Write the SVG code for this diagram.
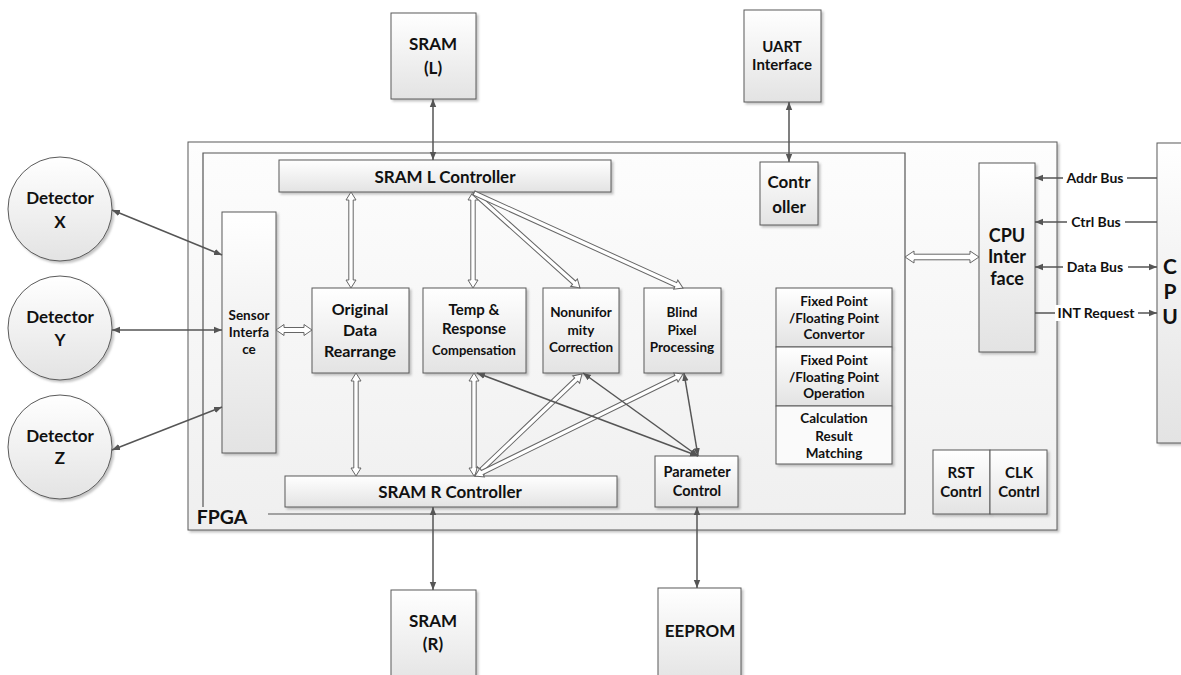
<svg xmlns="http://www.w3.org/2000/svg" width="1181" height="675" viewBox="0 0 1181 675">
<defs>
<linearGradient id="g" x1="0" y1="0" x2="0" y2="1"><stop offset="0" stop-color="#ffffff"/><stop offset="1" stop-color="#e3e3e3"/></linearGradient>
<linearGradient id="gf" x1="0" y1="0" x2="0" y2="1"><stop offset="0" stop-color="#fdfdfd"/><stop offset="1" stop-color="#efefef"/></linearGradient>
<filter id="sh" x="-10%" y="-10%" width="130%" height="130%"><feDropShadow dx="2" dy="2" stdDeviation="1" flood-color="#888" flood-opacity="0.5"/></filter>
<marker id="ah" viewBox="0 0 10 10" refX="10" refY="5" markerWidth="8" markerHeight="8" markerUnits="userSpaceOnUse" orient="auto-start-reverse"><path d="M0,1 L10,5 L0,9 z" fill="#555"/></marker>
<style>
.box{fill:url(#g);stroke:#5a5a5a;stroke-width:1;filter:url(#sh)}
.t{font-family:Lato,"Liberation Sans",sans-serif;font-weight:bold;fill:#111;text-anchor:middle}
.f21{font-size:21px}.f19{font-size:19.5px}.f18{font-size:18px}.f17{font-size:17px}.f16{font-size:16px}.f15{font-size:15px}.f145{font-size:14.5px}.f14{font-size:14px}.f135{font-size:13.5px}.f13{font-size:13px}
.dl{fill:none;stroke:#555;stroke-width:1.5;marker-start:url(#ah);marker-end:url(#ah)}
.sl{fill:none;stroke:#555;stroke-width:1.5;marker-end:url(#ah)}
.ha{fill:#fff;stroke:#666;stroke-width:1}
.lb{fill:#fff}
</style>
</defs>
<rect width="1181" height="675" fill="#fff"/>

<g id="fpga">
<rect x="188" y="142" width="869" height="388" fill="url(#gf)" stroke="#5a5a5a" stroke-width="1" filter="url(#sh)"/>
<path d="M268,514 H905 V153 H203 V507" fill="none" stroke="#555" stroke-width="1.2"/>
<text class="t f19" x="222" y="524">FPGA</text>
</g>

<g id="detector-x"><circle cx="60" cy="209" r="52" class="box"/><text class="t f17" x="60" y="204">Detector</text><text class="t f17" x="60" y="228">X</text></g>
<g id="detector-y"><circle cx="60" cy="328" r="52" class="box"/><text class="t f17" x="60" y="323">Detector</text><text class="t f17" x="60" y="346">Y</text></g>
<g id="detector-z"><circle cx="60" cy="447" r="52" class="box"/><text class="t f17" x="60" y="442">Detector</text><text class="t f17" x="60" y="464">Z</text></g>

<g id="sram-l"><rect class="box" x="391" y="13" width="85" height="86"/><text class="t f17" x="433" y="50">SRAM</text><text class="t f17" x="433" y="74">(L)</text></g>
<g id="uart"><rect class="box" x="744" y="10" width="77" height="92"/><text class="t f15" x="782" y="52">UART</text><text class="t f15" x="782" y="70">Interface</text></g>
<g id="sram-l-ctrl"><rect class="box" x="279" y="160" width="332" height="32"/><text class="t f17" x="445" y="183">SRAM L Controller</text></g>
<g id="controller"><rect class="box" x="760" y="162" width="58" height="63"/><text class="t f17" x="789" y="188">Contr</text><text class="t f17" x="789" y="213">oller</text></g>
<g id="cpu-interface"><rect class="box" x="979" y="163" width="56" height="189"/><text class="t f18" x="1007" y="242">CPU</text><text class="t f18" x="1007" y="263">Inter</text><text class="t f18" x="1007" y="285">face</text></g>
<g id="cpu"><rect class="box" x="1157" y="143" width="40" height="300"/><text class="t f21" x="1170" y="274">C</text><text class="t f21" x="1170" y="299">P</text><text class="t f21" x="1170" y="324">U</text></g>
<g id="sensor-interface"><rect class="box" x="222" y="212" width="54" height="241"/><text class="t f135" x="249" y="320">Sensor</text><text class="t f135" x="249" y="337">Interfa</text><text class="t f135" x="249" y="354">ce</text></g>
<g id="original-data"><rect class="box" x="312" y="288" width="97" height="85"/><text class="t f16" x="360" y="315">Original</text><text class="t f16" x="360" y="336">Data</text><text class="t f16" x="360" y="357">Rearrange</text></g>
<g id="temp-response"><rect class="box" x="423" y="288" width="103" height="85"/><text class="t f15" x="474" y="315">Temp &amp;</text><text class="t f15" x="474" y="334">Response</text><text class="t f13" x="474" y="355">Compensation</text></g>
<g id="nonuniformity"><rect class="box" x="543" y="288" width="76" height="85"/><text class="t f135" x="581" y="317">Nonunifor</text><text class="t f135" x="581" y="335">mity</text><text class="t f135" x="581" y="352">Correction</text></g>
<g id="blind-pixel"><rect class="box" x="644" y="288" width="77" height="85"/><text class="t f135" x="682" y="317">Blind</text><text class="t f135" x="682" y="335">Pixel</text><text class="t f135" x="682" y="352">Processing</text></g>
<g id="fixed-convertor"><rect class="box" x="776" y="288" width="116" height="59"/><text class="t f135" x="834" y="306">Fixed Point</text><text class="t f135" x="834" y="323">/Floating Point</text><text class="t f135" x="834" y="339">Convertor</text></g>
<g id="fixed-operation"><rect class="box" x="776" y="347" width="116" height="59"/><text class="t f135" x="834" y="365">Fixed Point</text><text class="t f135" x="834" y="382">/Floating Point</text><text class="t f135" x="834" y="398">Operation</text></g>
<g id="calc-matching"><rect class="box" x="776" y="406" width="116" height="58" style="fill:#fafafa"/><text class="t f135" x="834" y="423">Calculation</text><text class="t f135" x="834" y="441">Result</text><text class="t f135" x="834" y="458">Matching</text></g>
<g id="sram-r-ctrl"><rect class="box" x="285" y="476" width="332" height="31"/><text class="t f17" x="450" y="498">SRAM R Controller</text></g>
<g id="parameter-control"><rect class="box" x="655" y="456" width="83" height="51"/><text class="t f145" x="697" y="477">Parameter</text><text class="t f145" x="697" y="496">Control</text></g>
<g id="rst"><rect class="box" x="933" y="450" width="57" height="64"/><text class="t f15" x="961" y="478">RST</text><text class="t f15" x="961" y="497">Contrl</text></g>
<g id="clk"><rect class="box" x="990" y="450" width="57" height="64"/><text class="t f15" x="1019" y="478">CLK</text><text class="t f15" x="1019" y="497">Contrl</text></g>
<g id="sram-r"><rect class="box" x="391" y="590" width="85" height="95"/><text class="t f17" x="433" y="627">SRAM</text><text class="t f17" x="433" y="650">(R)</text></g>
<g id="eeprom"><rect class="box" x="658" y="588" width="83" height="97"/><text class="t f17" x="700" y="637">EEPROM</text></g>

<g id="connectors">
<polygon class="ha" transform="translate(276,330)" points="0,0 8,-5.5 8,-2.5 28,-2.5 28,-5.5 36,0 28,5.5 28,2.5 8,2.5 8,5.5"/>
<polygon class="ha" transform="translate(351,192) rotate(90)" points="0,0 8,-5 8,-2.2 88,-2.2 88,-5 96,0 88,5 88,2.2 8,2.2 8,5"/>
<polygon class="ha" transform="translate(356,373) rotate(90)" points="0,0 8,-5 8,-2.2 95,-2.2 95,-5 103,0 95,5 95,2.2 8,2.2 8,5"/>
<polygon class="ha" transform="translate(473,192) rotate(90)" points="0,0 8,-5 8,-2.2 88,-2.2 88,-5 96,0 88,5 88,2.2 8,2.2 8,5"/>
<polygon class="ha" transform="translate(474,193) rotate(41.86)" points="0,-2.2 134.3,-2.2 134.3,-5 142.3,0 134.3,5 134.3,2.2 0,2.2"/>
<polygon class="ha" transform="translate(474,193) rotate(24.44)" points="0,-2.2 221.6,-2.2 221.6,-5 229.6,0 221.6,5 221.6,2.2 0,2.2"/>
<polygon class="ha" transform="translate(474,373) rotate(90)" points="0,0 8,-5 8,-2.2 95,-2.2 95,-5 103,0 95,5 95,2.2 8,2.2 8,5"/>
<polygon class="ha" transform="translate(475,476) rotate(-43.63)" points="0,0 8,-5 8,-2.2 139.8,-2.2 139.8,-5 147.8,0 139.8,5 139.8,2.2 8,2.2 8,5"/>
<polygon class="ha" transform="translate(475,476) rotate(-26.12)" points="0,0 8,-5 8,-2.2 223.7,-2.2 223.7,-5 231.7,0 223.7,5 223.7,2.2 8,2.2 8,5"/>
<polygon class="ha" transform="translate(905,257)" points="0,0 9,-6 9,-2.8 65,-2.8 65,-6 74,0 65,6 65,2.8 9,2.8 9,6"/>
<line class="dl" x1="433" y1="99" x2="433" y2="160"/>
<line class="dl" x1="789" y1="102" x2="789" y2="162"/>
<line class="dl" x1="112" y1="210" x2="222" y2="255"/>
<line class="dl" x1="112" y1="330" x2="222" y2="330"/>
<line class="dl" x1="112" y1="450" x2="222" y2="407"/>
<line class="dl" x1="698" y1="456" x2="477" y2="373"/>
<line class="dl" x1="698" y1="456" x2="583" y2="373"/>
<line class="dl" x1="698" y1="456" x2="684" y2="373"/>
<line class="dl" x1="433" y1="507" x2="433" y2="590"/>
<line class="dl" x1="697" y1="507" x2="697" y2="588"/>
<line class="sl" x1="1157" y1="178" x2="1035" y2="178"/>
<line class="sl" x1="1157" y1="222" x2="1035" y2="222"/>
<line class="dl" x1="1035" y1="267" x2="1157" y2="267"/>
<line class="sl" x1="1035" y1="313" x2="1157" y2="313"/>
<rect class="lb" x="1063" y="170" width="64" height="16"/>
<rect class="lb" x="1067" y="214" width="58" height="16"/>
<rect class="lb" x="1063" y="259" width="65" height="16"/>
<rect class="lb" x="1055" y="305" width="83" height="16"/>
<text class="t f14" x="1095" y="183">Addr Bus</text>
<text class="t f14" x="1096" y="227">Ctrl Bus</text>
<text class="t f14" x="1095" y="272">Data Bus</text>
<text class="t f14" x="1096" y="318">INT Request</text>
</g>
</svg>
